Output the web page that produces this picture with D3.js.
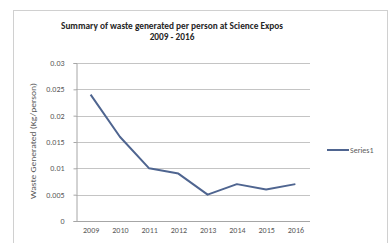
<!DOCTYPE html>
<html>
<head>
<meta charset="utf-8">
<script src="https://cdn.jsdelivr.net/npm/d3@7"></script>
<style>
  body { margin: 0; background: #fff; }
  text { font-family: Carlito, "Liberation Sans", Arial, sans-serif; }
</style>
</head>
<body>
<script>
let years = ['2009', '2010', '2011', '2012', '2013', '2014', '2015', '2016']
let waste = [0.024, 0.016, 0.010, 0.009, 0.005, 0.007, 0.006, 0.007]
let yTicks = [0, 0.005, 0.01, 0.015, 0.02, 0.025, 0.03]
let seriesName = 'Series1'
let title = ['Summary of waste generated per person at Science Expos', '2009 - 2016']
let yTitle = 'Waste Generated (Kg/person)'

let W = 389, H = 243
let plot = { left: 76, right: 310, top: 63, bottom: 221 }
let lineColor = '#4f6590'

let svg = d3.select('body').append('svg')
  .attr('width', W)
  .attr('height', H)

// chart frame
svg.append('rect')
  .attr('x', 13.5).attr('y', 10.5)
  .attr('width', 374).attr('height', 240)
  .attr('fill', 'none')
  .attr('stroke', '#d0d0d0')

let x = d3.scalePoint().domain(years).range([plot.left, plot.right]).padding(0.5)
let y = d3.scaleLinear().domain([0, 0.03]).range([plot.bottom, plot.top])

// gridlines
svg.append('g')
  .selectAll('line')
  .data(yTicks.filter(d => d > 0))
  .join('line')
  .attr('x1', plot.left).attr('x2', plot.right)
  .attr('y1', d => Math.round(y(d)) + 0.5).attr('y2', d => Math.round(y(d)) + 0.5)
  .attr('stroke', '#c4c4c4')

// y axis
let yAxis = svg.append('g')
  .attr('transform', `translate(${plot.left + 0.5},0)`)
  .call(d3.axisLeft(y).tickValues(yTicks).tickFormat(d => d3.format('')(+d.toFixed(3))).tickSize(3).tickPadding(9))
yAxis.select('.domain').attr('stroke', '#a6a6a6')
yAxis.selectAll('.tick line').attr('stroke', '#a6a6a6')
yAxis.selectAll('text').attr('fill', '#595959').style('font-size', '8px')

// x axis
let xAxis = svg.append('g')
  .attr('transform', `translate(0,${plot.bottom + 0.5})`)
  .call(d3.axisBottom(x).tickSize(0).tickPadding(6))
xAxis.select('.domain').attr('stroke', '#a6a6a6').attr('d', `M${plot.left},0H${plot.right}`)
xAxis.selectAll('text').attr('fill', '#595959').style('font-size', '8px')

// series line
svg.append('path')
  .datum(waste)
  .attr('d', d3.line().x((d, i) => x(years[i])).y(d => y(d)))
  .attr('fill', 'none')
  .attr('stroke', lineColor)
  .attr('stroke-width', 2)
  .attr('stroke-linejoin', 'round')

// title
svg.append('text')
  .attr('x', 172).attr('text-anchor', 'middle')
  .style('font-size', '9.3px').style('font-weight', 'bold').attr('fill', '#262626')
  .selectAll('tspan')
  .data(title)
  .join('tspan')
  .attr('x', 172)
  .attr('y', (d, i) => 29 + i * 11)
  .text(d => d)

// y axis title
svg.append('text')
  .attr('transform', 'translate(36,141) rotate(-90)')
  .attr('text-anchor', 'middle')
  .attr('textLength', 116).attr('lengthAdjust', 'spacingAndGlyphs')
  .style('font-size', '7.5px').attr('fill', '#595959')
  .text(yTitle)

// legend
svg.append('line')
  .attr('x1', 327).attr('x2', 349)
  .attr('y1', 150).attr('y2', 150)
  .attr('stroke', lineColor).attr('stroke-width', 2)
svg.append('text')
  .attr('x', 350).attr('y', 153)
  .style('font-size', '8px').attr('fill', '#595959')
  .text(seriesName)
</script>
</body>
</html>
